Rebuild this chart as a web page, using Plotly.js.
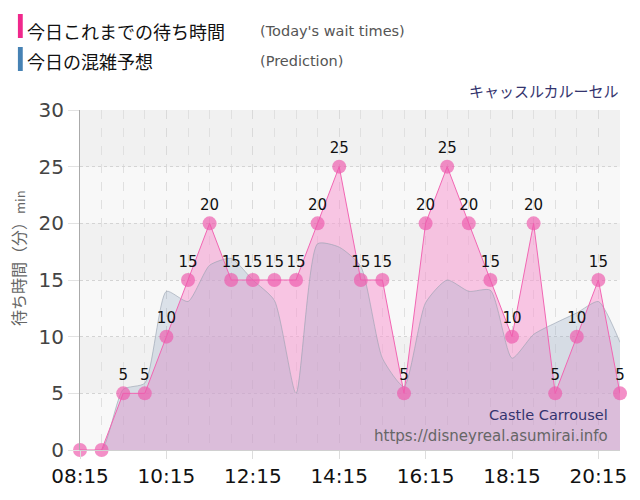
<!DOCTYPE html>
<html>
<head>
<meta charset="utf-8">
<script src="https://cdn.plot.ly/plotly-3.0.1.min.js"></script>
<style>
  body { margin: 0; background: #fff; }
  #chart { width: 640px; height: 500px; }
</style>
</head>
<body>
<div id="chart"></div>
<script>
// half-hour slots
const times = ['08:15', '08:45', '09:15', '09:45', '10:15', '10:45', '11:15', '11:45',
    '12:15', '12:45', '13:15', '13:45', '14:15', '14:45', '15:15', '15:45', '16:15',
    '16:45', '17:15', '17:45', '18:15', '18:45', '19:15', '19:45', '20:15', '20:45'];

// today's wait times (min)
const actual = [0, 0, 5, 5, 10, 15, 20, 15, 15, 15, 15, 20, 25, 15, 15, 5, 20,
    25, 20, 15, 10, 20, 5, 10, 15, 5];

// predicted wait (min)
const predicted = [0, 0, 5.35, 5.9, 14.0, 13.1, 16.3, 16.9, 15.0, 13.2, 5.0, 18.2, 17.9,
    16.2, 8.1, 5.6, 13.0, 15.0, 14.0, 14.1, 8.1, 10.2, 11.2, 12.1, 13.1, 9.5];

const tickTimes = ['08:15', '10:15', '12:15', '14:15', '16:15', '18:15', '20:15'];

const day = '2024-01-01 ';
const x = times.map(t => day + t);
const labels = actual.map(v => v > 0 ? String(v) : '');

const numFont = 'DejaVu Sans, Noto Sans CJK JP, sans-serif';
const jpFont = 'Noto Sans CJK JP, DejaVu Sans, sans-serif';

const data = [
    // pink area under today's times
    {
        x: x, y: actual, mode: 'lines', fill: 'tozeroy',
        fillcolor: 'rgba(248,155,210,0.55)',
        line: {width: 0},
        hoverinfo: 'skip', showlegend: false
    },
    // prediction area
    {
        x: x, y: predicted, mode: 'lines', fill: 'tozeroy',
        fillcolor: 'rgba(148,170,195,0.29)',
        line: {color: 'rgba(150,160,175,0.6)', width: 1, shape: 'spline', smoothing: 0.6},
        showlegend: false
    },
    // today's times line + markers
    {
        x: x, y: actual, mode: 'lines+markers+text',
        line: {color: '#f266b3', width: 1},
        marker: {size: 14, color: 'rgba(238,90,172,0.68)'},
        text: labels, textposition: 'top center',
        textfont: {family: numFont, size: 15, color: '#111'},
        cliponaxis: false, showlegend: false
    }
];

// alternating background bands
const bands = [[25, 30], [15, 20], [5, 10]].map(b => ({
    type: 'rect', xref: 'paper', yref: 'y', x0: 0, x1: 1, y0: b[0], y1: b[1],
    fillcolor: '#f1f1f1', line: {width: 0}, layer: 'below'
}));

const legendBars = [
    {type: 'rect', xref: 'paper', yref: 'paper', x0: -0.115, x1: -0.106, y0: 1.2118, y1: 1.2824,
     fillcolor: '#f0288c', line: {width: 0}},
    {type: 'rect', xref: 'paper', yref: 'paper', x0: -0.115, x1: -0.106, y0: 1.1147, y1: 1.1853,
     fillcolor: '#4682b4', line: {width: 0}}
];

function px(xp) { return (xp - 80) / 540; }
function py(yp) { return (450 - yp) / 340; }

const annotations = [
    {text: '今日これまでの待ち時間', x: px(25), y: py(31), xanchor: 'left', yanchor: 'middle',
     font: {family: jpFont, size: 18, color: '#111'}},
    {text: "(Today's wait times)", x: px(258), y: py(31), xanchor: 'left', yanchor: 'middle',
     font: {family: numFont, size: 14.5, color: '#555'}},
    {text: '今日の混雑予想', x: px(25), y: py(61), xanchor: 'left', yanchor: 'middle',
     font: {family: jpFont, size: 18, color: '#111'}},
    {text: '(Prediction)', x: px(258), y: py(61), xanchor: 'left', yanchor: 'middle',
     font: {family: numFont, size: 14.5, color: '#555'}},
    {text: 'キャッスルカルーセル', x: px(621), y: py(90), xanchor: 'right', yanchor: 'middle',
     font: {family: jpFont, size: 15, color: '#34346e'}},
    {text: 'Castle Carrousel', x: px(610), y: py(415), xanchor: 'right', yanchor: 'middle',
     font: {family: numFont, size: 14.5, color: '#34346e'}},
    {text: 'https://disneyreal.asumirai.info', x: px(610), y: py(436), xanchor: 'right', yanchor: 'middle',
     font: {family: numFont, size: 15, color: '#666'}},
    {text: '待ち時間（分）<span style="font-size:13px">min</span>', x: px(18), y: py(258),
     xanchor: 'center', yanchor: 'middle', textangle: -90,
     font: {family: jpFont, size: 16, color: '#666'}}
].map(a => Object.assign({xref: 'paper', yref: 'paper', showarrow: false}, a));

const layout = {
    width: 640, height: 500,
    margin: {l: 80, r: 20, t: 110, b: 50},
    paper_bgcolor: '#ffffff',
    plot_bgcolor: '#f8f8f8',
    showlegend: false,
    xaxis: {
        type: 'date',
        range: [day + times[0], day + times[times.length - 1]],
        tickvals: tickTimes.map(t => day + t),
        ticktext: tickTimes,
        ticks: 'outside', ticklen: 8, tickcolor: '#dddddd',
        showgrid: true, gridcolor: '#dadada', griddash: 'dash',
        minor: {tickvals: x, showgrid: true, gridcolor: '#e0e0e0', griddash: 'dash', ticks: ''},
        showline: true, linecolor: '#d0d0d0',
        zeroline: false,
        tickfont: {family: numFont, size: 20, color: '#111'}
    },
    yaxis: {
        range: [0, 30], dtick: 5,
        ticks: 'outside', ticklen: 11, tickcolor: '#e2e2e2',
        showgrid: true, gridcolor: '#d4d4d4', griddash: 'dot',
        showline: true, linecolor: '#aaaaaa',
        zeroline: false,
        tickfont: {family: numFont, size: 20, color: '#444'}
    },
    shapes: bands.concat(legendBars),
    annotations: annotations
};

Plotly.newPlot('chart', data, layout, {displayModeBar: false, staticPlot: true});
</script>
</body>
</html>
